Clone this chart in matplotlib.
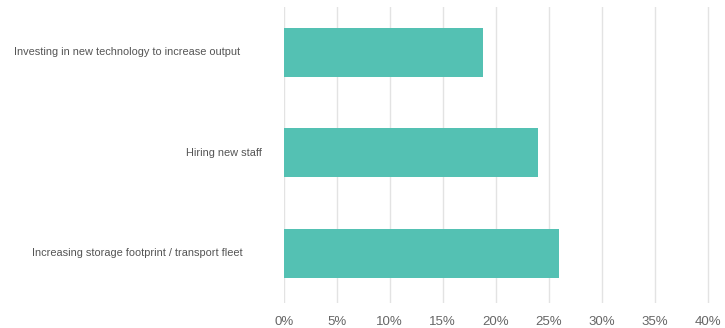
import matplotlib
matplotlib.use("Agg")
import matplotlib.pyplot as plt
from matplotlib.ticker import FuncFormatter

categories = [
    "Investing in new technology to increase output",
    "Hiring new staff",
    "Increasing storage footprint / transport fleet",
]
values = [18.8, 24.0, 26.0]
xticks = [0, 5, 10, 15, 20, 25, 30, 35, 40]

# horizontal centre of each category label, in figure pixels
label_centres = [127, 224, 137]

W, H = 725, 328
plt.rcParams["font.family"] = ["Liberation Sans", "DejaVu Sans"]
fig = plt.figure(figsize=(W / 100, H / 100), dpi=100)
left, right, top, bottom = 283.7, 710.0, 7.0, 303.0
ax = fig.add_axes([left / W, 1 - bottom / H, (right - left) / W, (bottom - top) / H])

y = list(range(len(categories)))
ax.barh(y, values, height=0.485, color="#54c1b3", zorder=3)

ax.set_xlim(0, 40 * (right - left) / (707.7 - left))
ax.set_ylim(2.495, -0.45)
ax.set_xticks(xticks)
ax.xaxis.set_major_formatter(FuncFormatter(lambda v, p: f"{v:.0f}%"))
ax.tick_params(axis="x", length=0, pad=9.5, labelsize=9.5, labelcolor="#666666")
ax.set_yticks([])
ax.grid(axis="x", color="#e3e3e3", linewidth=1.0, zorder=0)
for s in ax.spines.values():
    s.set_visible(False)

for yi, cat, cx in zip(y, categories, label_centres):
    _, ypix = ax.transData.transform((0, yi))
    fig.text(cx / W, ypix / H, cat, ha="center", va="center",
             fontsize=7.9, color="#555555")

fig.savefig("out.png", dpi=100)
